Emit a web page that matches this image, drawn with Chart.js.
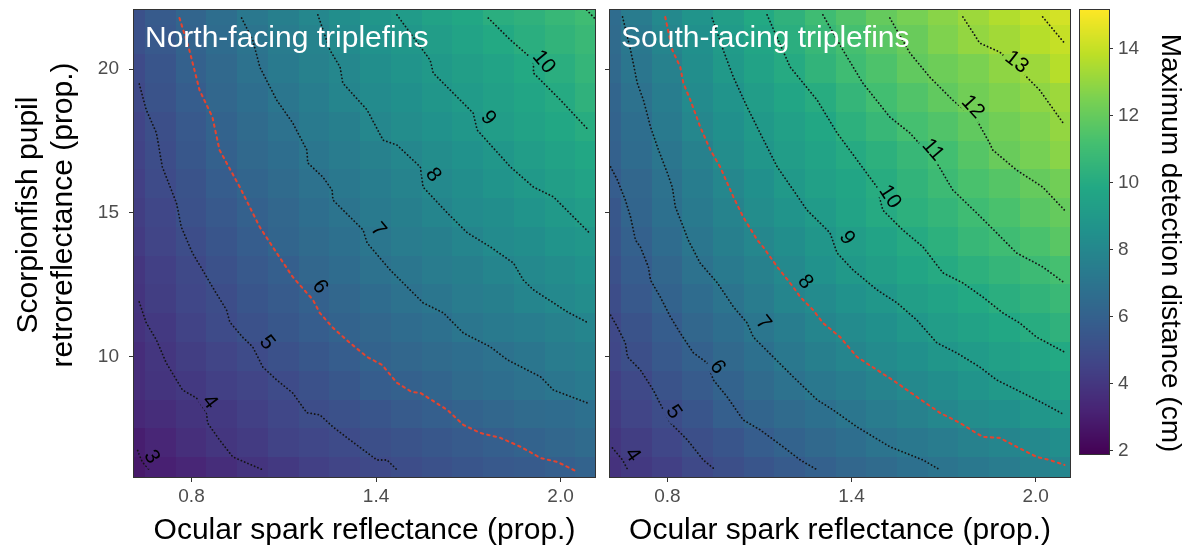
<!DOCTYPE html>
<html>
<head>
<meta charset="utf-8">
<script src="https://cdn.jsdelivr.net/npm/chart.js@4.4.1/dist/chart.umd.min.js"></script>
<style>
  html, body { margin: 0; padding: 0; background: #fff; }
  #wrap { position: relative; width: 1198px; height: 549px; overflow: hidden; }
  canvas { position: absolute; top: 0; }
</style>
</head>
<body>
<div id="wrap">
  <canvas id="north" width="600" height="549" style="left:0"></canvas>
  <canvas id="south" width="475" height="549" style="left:600px"></canvas>
  <canvas id="cbar" width="123" height="549" style="left:1075px"></canvas>
</div>
<script>
const FONT = '"Liberation Sans", Arial, Helvetica, sans-serif';

// axis ranges and ticks
const X_MIN = 0.613, X_MAX = 2.112;
const Y_MIN = 5.83, Y_MAX = 22.05;
const Z_MIN = 1.91, Z_MAX = 15.16;
const xTicks = [0.8, 1.4, 2.0];
const yTicks = [10, 15, 20];
const barTicks = [2, 4, 6, 8, 10, 12, 14];

// grid of the heat map (cell centres)
const xCenters = [0.6, 0.7, 0.8, 0.9, 1.0, 1.1, 1.2, 1.3, 1.4, 1.5, 1.6, 1.7, 1.8, 1.9, 2.0, 2.1];
const yCenters = [22, 21, 20, 19, 18, 17, 16, 15, 14, 13, 12, 11, 10, 9, 8, 7, 6];

// maximum detection distance (cm), rows from top (y=22) to bottom (y=6)
const northZ = [
  [5.2, 5.7, 6.2, 6.7, 7.2, 7.6, 8.0, 8.4, 8.8, 9.1, 9.5, 9.8, 10.2, 10.4, 10.7, 11.0],
  [5.2, 5.6, 6.1, 6.6, 7.0, 7.4, 7.8, 8.2, 8.6, 8.9, 9.2, 9.6, 9.9, 10.2, 10.5, 10.8],
  [4.9, 5.4, 6.0, 6.4, 6.9, 7.3, 7.7, 8.0, 8.4, 8.7, 9.0, 9.3, 9.6, 9.9, 10.2, 10.6],
  [4.8, 5.3, 5.8, 6.3, 6.7, 7.1, 7.5, 7.9, 8.2, 8.5, 8.8, 9.1, 9.4, 9.7, 10.0, 10.4],
  [4.6, 5.1, 5.6, 6.1, 6.5, 6.9, 7.3, 7.6, 8.0, 8.3, 8.6, 8.9, 9.2, 9.5, 9.8, 10.1],
  [4.5, 5.0, 5.5, 6.0, 6.4, 6.7, 7.1, 7.4, 7.7, 8.0, 8.3, 8.6, 8.9, 9.2, 9.5, 9.8],
  [4.4, 4.9, 5.3, 5.8, 6.2, 6.5, 6.9, 7.2, 7.5, 7.8, 8.1, 8.4, 8.7, 9.0, 9.3, 9.6],
  [4.3, 4.7, 5.2, 5.6, 6.0, 6.3, 6.7, 7.0, 7.3, 7.6, 7.9, 8.2, 8.4, 8.7, 9.0, 9.2],
  [4.2, 4.6, 5.0, 5.4, 5.8, 6.2, 6.5, 6.8, 7.1, 7.4, 7.6, 7.9, 8.2, 8.4, 8.7, 8.9],
  [4.0, 4.4, 4.8, 5.2, 5.6, 5.9, 6.3, 6.6, 6.9, 7.1, 7.4, 7.6, 7.9, 8.1, 8.3, 8.6],
  [3.9, 4.3, 4.7, 5.0, 5.4, 5.7, 6.0, 6.3, 6.6, 6.9, 7.1, 7.4, 7.6, 7.9, 8.1, 8.3],
  [3.8, 4.1, 4.5, 4.9, 5.2, 5.5, 5.8, 6.1, 6.3, 6.6, 6.8, 7.1, 7.3, 7.5, 7.7, 7.9],
  [3.6, 4.0, 4.3, 4.6, 4.9, 5.2, 5.5, 5.8, 6.1, 6.3, 6.5, 6.7, 6.9, 7.1, 7.4, 7.6],
  [3.6, 3.9, 4.1, 4.4, 4.6, 4.9, 5.2, 5.5, 5.8, 6.0, 6.2, 6.5, 6.7, 6.9, 7.1, 7.3],
  [3.4, 3.6, 3.9, 4.1, 4.4, 4.7, 5.0, 5.2, 5.4, 5.7, 5.9, 6.1, 6.3, 6.5, 6.6, 6.8],
  [3.0, 3.3, 3.7, 4.0, 4.2, 4.5, 4.7, 4.9, 5.1, 5.3, 5.5, 5.7, 5.9, 6.1, 6.3, 6.5],
  [2.8, 3.1, 3.3, 3.6, 3.9, 4.1, 4.4, 4.6, 4.8, 5.0, 5.2, 5.4, 5.6, 5.7, 5.9, 6.1]
];
const southZ = [
  [6.6, 7.4, 8.1, 8.7, 9.3, 9.9, 10.4, 11.0, 11.5, 12.0, 12.4, 12.8, 13.2, 13.6, 14.0, 14.3],
  [6.5, 7.2, 7.9, 8.5, 9.1, 9.7, 10.2, 10.7, 11.2, 11.7, 12.1, 12.6, 13.0, 13.3, 13.7, 14.0],
  [6.4, 7.1, 7.7, 8.4, 9.0, 9.5, 10.0, 10.5, 11.0, 11.4, 11.9, 12.2, 12.5, 12.9, 13.2, 13.7],
  [6.2, 6.9, 7.5, 8.2, 8.7, 9.2, 9.7, 10.1, 10.6, 11.1, 11.5, 11.9, 12.3, 12.6, 12.9, 13.2],
  [6.1, 6.7, 7.3, 8.0, 8.5, 9.0, 9.4, 9.8, 10.3, 10.7, 11.2, 11.5, 11.9, 12.3, 12.6, 13.0],
  [6.0, 6.6, 7.1, 7.7, 8.3, 8.8, 9.2, 9.6, 10.0, 10.3, 10.7, 11.1, 11.6, 12.1, 12.4, 12.8],
  [5.8, 6.3, 6.9, 7.5, 8.0, 8.5, 9.0, 9.4, 9.7, 10.1, 10.5, 10.9, 11.3, 11.6, 12.0, 12.3],
  [5.5, 6.2, 6.8, 7.3, 7.8, 8.3, 8.7, 9.1, 9.6, 10.0, 10.3, 10.6, 11.0, 11.3, 11.7, 12.0],
  [5.4, 6.0, 6.6, 7.1, 7.6, 8.0, 8.4, 8.8, 9.2, 9.6, 10.0, 10.3, 10.7, 11.0, 11.3, 11.7],
  [5.2, 5.8, 6.3, 6.9, 7.3, 7.7, 8.1, 8.6, 9.0, 9.3, 9.7, 10.0, 10.3, 10.6, 10.9, 11.2],
  [5.0, 5.6, 6.1, 6.6, 7.0, 7.4, 7.9, 8.2, 8.6, 8.9, 9.3, 9.6, 9.9, 10.2, 10.5, 10.8],
  [4.8, 5.3, 5.8, 6.3, 6.7, 7.1, 7.5, 7.9, 8.2, 8.5, 8.9, 9.2, 9.5, 9.8, 10.1, 10.4],
  [4.7, 5.1, 5.6, 6.0, 6.4, 6.8, 7.2, 7.6, 7.9, 8.2, 8.5, 8.8, 9.1, 9.4, 9.7, 9.9],
  [4.4, 4.8, 5.3, 5.7, 6.1, 6.5, 6.9, 7.2, 7.5, 7.8, 8.1, 8.4, 8.7, 9.0, 9.3, 9.5],
  [4.2, 4.6, 5.0, 5.4, 5.9, 6.2, 6.5, 6.8, 7.1, 7.4, 7.7, 8.0, 8.3, 8.5, 8.8, 9.0],
  [4.0, 4.3, 4.7, 5.1, 5.4, 5.8, 6.1, 6.4, 6.7, 7.0, 7.2, 7.4, 7.7, 7.9, 8.1, 8.4],
  [3.8, 4.1, 4.4, 4.8, 5.1, 5.4, 5.7, 6.0, 6.3, 6.5, 6.8, 7.0, 7.2, 7.4, 7.7, 7.9]
];

// contour lines, [x, y] points
const north3 = [[0.625, 6.75], [0.640, 6.35], [0.666, 6.04]];
const north4 = [[0.630, 11.91], [0.653, 11.18], [0.686, 10.59], [0.718, 9.79], [0.771, 8.85], [0.816, 8.58], [0.849, 8.06], [0.852, 7.71], [0.891, 7.12], [0.934, 6.53], [0.979, 6.32], [1.032, 6.08]];
const north5 = [[0.630, 19.48], [0.653, 18.58], [0.686, 17.78], [0.705, 16.60], [0.751, 15.35], [0.767, 14.51], [0.803, 13.61], [0.836, 13.02], [0.868, 12.43], [0.914, 11.63], [0.924, 11.22], [0.966, 10.69], [0.999, 10.35], [1.032, 9.65], [1.077, 9.20], [1.129, 8.75], [1.175, 8.06], [1.217, 7.99], [1.260, 7.57], [1.315, 7.12], [1.403, 6.42], [1.436, 6.42], [1.468, 6.08]];
const north6 = [[0.761, 21.77], [0.793, 20.66], [0.826, 19.27], [0.868, 18.33], [0.891, 17.19], [0.957, 15.90], [1.022, 14.51], [1.077, 13.61], [1.129, 12.78], [1.195, 11.98], [1.217, 11.53], [1.260, 11.01], [1.315, 10.49], [1.371, 10.00], [1.420, 9.72], [1.468, 9.10], [1.517, 8.78], [1.544, 8.75], [1.632, 8.16], [1.684, 7.64], [1.739, 7.36], [1.804, 7.19], [1.870, 6.88], [1.935, 6.49], [1.990, 6.35], [2.055, 6.01]];
const north7 = [[0.963, 21.77], [0.999, 21.01], [1.022, 20.07], [1.077, 18.92], [1.129, 18.13], [1.175, 17.19], [1.178, 16.74], [1.227, 16.25], [1.257, 15.80], [1.260, 15.45], [1.358, 14.41], [1.371, 13.96], [1.446, 13.02], [1.553, 11.88], [1.619, 11.53], [1.684, 10.83], [1.772, 10.35], [1.827, 9.90], [1.935, 9.31], [1.977, 8.85], [2.088, 8.40]];
const north8 = [[1.211, 21.88], [1.250, 20.66], [1.283, 20.07], [1.292, 19.51], [1.371, 18.58], [1.423, 17.53], [1.468, 17.36], [1.544, 16.60], [1.553, 15.90], [1.632, 15.00], [1.697, 14.31], [1.772, 13.82], [1.847, 13.26], [1.879, 12.67], [1.912, 12.33], [2.023, 11.56], [2.091, 11.18]];
const north9 = [[1.468, 21.88], [1.576, 20.31], [1.586, 19.86], [1.716, 18.47], [1.729, 17.88], [1.837, 16.60], [1.912, 15.90], [1.977, 15.56], [2.091, 14.34]];
const north10 = [[1.765, 21.77], [1.837, 21.01], [1.912, 20.31], [1.912, 19.86], [2.000, 18.92], [2.091, 17.88]];
const north11 = [[2.085, 22.05], [2.112, 21.75]];

const south4 = [[0.621, 6.84], [0.654, 6.42], [0.673, 6.04]];
const south5 = [[0.615, 11.45], [0.637, 11.04], [0.663, 10.49], [0.670, 10.00], [0.712, 9.55], [0.754, 8.85], [0.787, 8.16], [0.810, 7.71], [0.865, 7.12], [0.917, 6.42], [0.956, 6.08]];
const south6 = [[0.615, 16.60], [0.637, 16.15], [0.663, 15.45], [0.680, 14.86], [0.696, 14.06], [0.712, 13.82], [0.738, 13.13], [0.745, 12.67], [0.777, 12.08], [0.810, 11.39], [0.842, 10.83], [0.885, 10.14], [0.930, 9.79], [0.950, 9.20], [0.995, 8.61], [1.047, 7.81], [1.102, 7.47], [1.177, 6.88], [1.233, 6.42], [1.288, 6.08]];
const south7 = [[0.654, 21.81], [0.680, 20.66], [0.702, 19.51], [0.722, 18.92], [0.745, 17.99], [0.771, 17.19], [0.800, 16.39], [0.816, 15.90], [0.826, 15.21], [0.852, 14.51], [0.868, 14.06], [0.907, 13.26], [0.963, 12.57], [1.015, 11.74], [1.060, 11.18], [1.080, 10.69], [1.145, 10.00], [1.210, 9.31], [1.288, 8.51], [1.340, 8.16], [1.418, 7.57], [1.525, 6.88], [1.633, 6.42], [1.688, 6.08]];
const south8 = [[0.793, 21.81], [0.816, 20.66], [0.842, 20.07], [0.852, 19.51], [0.875, 18.92], [0.907, 17.99], [0.940, 17.19], [0.972, 16.60], [1.015, 15.56], [1.047, 14.86], [1.093, 14.06], [1.112, 13.82], [1.158, 13.13], [1.210, 12.43], [1.233, 12.08], [1.275, 11.63], [1.307, 11.18], [1.363, 10.69], [1.418, 10.00], [1.483, 9.55], [1.548, 9.10], [1.613, 8.61], [1.688, 8.06], [1.753, 7.71], [1.828, 7.22], [1.883, 7.19], [1.938, 6.88], [2.003, 6.53], [2.046, 6.42], [2.094, 6.25]];
const south9 = [[0.946, 21.77], [0.982, 20.66], [1.015, 19.72], [1.060, 18.68], [1.102, 17.78], [1.158, 16.60], [1.210, 15.80], [1.255, 15.10], [1.298, 14.65], [1.330, 14.31], [1.353, 13.61], [1.405, 13.02], [1.483, 12.33], [1.548, 11.88], [1.613, 11.28], [1.678, 10.49], [1.743, 10.14], [1.818, 9.65], [1.873, 9.20], [1.958, 8.75], [2.023, 8.40], [2.094, 7.99]];
const south10 = [[1.125, 21.88], [1.200, 20.07], [1.288, 18.92], [1.353, 17.78], [1.418, 16.84], [1.483, 15.90], [1.502, 15.10], [1.567, 14.41], [1.633, 13.82], [1.698, 12.92], [1.763, 12.57], [1.828, 12.08], [1.893, 11.53], [1.948, 11.18], [2.003, 10.69], [2.094, 10.17]];
const south11 = [[1.307, 21.88], [1.372, 20.66], [1.437, 19.51], [1.525, 18.33], [1.590, 17.78], [1.678, 16.74], [1.730, 15.80], [1.808, 15.00], [1.873, 14.31], [1.938, 13.61], [2.023, 13.13], [2.094, 12.57]];
const south12 = [[1.525, 21.77], [1.590, 20.56], [1.655, 19.72], [1.730, 18.92], [1.808, 18.23], [1.850, 17.43], [1.860, 17.19], [1.938, 16.49], [2.023, 15.90], [2.094, 15.10]];
const south13 = [[1.763, 21.81], [1.818, 20.90], [1.883, 20.59], [1.958, 19.86], [2.013, 19.27], [2.094, 18.06]];
const south14 = [[2.023, 21.81], [2.094, 20.90]];

// contour labels: [level, x, y]
const northLabels = [[3, 0.670, 6.53], [4, 0.859, 8.44], [5, 1.045, 10.49], [6, 1.217, 12.43], [7, 1.407, 14.41], [8, 1.586, 16.32], [9, 1.765, 18.30], [10, 1.945, 20.24]];
const southLabels = [[4, 0.686, 6.60], [5, 0.820, 8.09], [6, 0.963, 9.65], [7, 1.112, 11.18], [8, 1.249, 12.60], [9, 1.385, 14.13], [10, 1.525, 15.56], [11, 1.665, 17.19], [12, 1.795, 18.68], [13, 1.938, 20.24]];

const northLines = [[3, north3], [4, north4], [5, north5], [6, north6], [7, north7], [8, north8], [9, north9], [10, north10], [11, north11]];
const southLines = [[4, south4], [5, south5], [6, south6], [7, south7], [8, south8], [9, south9], [10, south10], [11, south11], [12, south12], [13, south13], [14, south14]];

const VIRIDIS = [[68,1,84],[72,36,117],[65,68,135],[53,95,141],[42,120,142],[33,145,140],[34,168,132],[68,191,112],[122,209,81],[189,223,38],[253,231,37]];

function viridis(v) {
  let t = (v - Z_MIN) / (Z_MAX - Z_MIN);
  t = Math.min(1, Math.max(0, t)) * (VIRIDIS.length - 1);
  const i = Math.min(Math.floor(t), VIRIDIS.length - 2), f = t - i;
  const a = VIRIDIS[i], b = VIRIDIS[i + 1];
  return 'rgb(' + a.map((c, k) => Math.round(c + (b[k] - c) * f)).join(',') + ')';
}

// put each label where it was read, turned along the nearest stretch of its contour
function placeLabels(chart, lines, labels) {
  const {ctx, scales: {x, y}} = chart;
  ctx.save();
  ctx.font = '21px ' + FONT;
  const out = labels.map(([level, lx, ly]) => {
    const pts = lines.find(l => l[0] === level)[1].map(([a, b]) => [x.getPixelForValue(a), y.getPixelForValue(b)]);
    const tx = x.getPixelForValue(lx), ty = y.getPixelForValue(ly);
    let best = null;
    for (let i = 0; i < pts.length - 1; i++) {
      const [x0, y0] = pts[i], [x1, y1] = pts[i + 1];
      const dx = x1 - x0, dy = y1 - y0;
      let t = ((tx - x0) * dx + (ty - y0) * dy) / (dx * dx + dy * dy || 1);
      t = Math.max(0, Math.min(1, t));
      const d = Math.hypot(tx - x0 - t * dx, ty - y0 - t * dy);
      if (!best || d < best.d) best = {d, i};
    }
    const a = pts[Math.max(0, best.i - 1)], b = pts[Math.min(pts.length - 1, best.i + 2)];
    let ang = Math.atan2(b[1] - a[1], b[0] - a[0]);
    if (ang > Math.PI / 2) ang -= Math.PI;
    if (ang < -Math.PI / 2) ang += Math.PI;
    const text = String(level);
    return {text, x: tx, y: ty, ang, w: ctx.measureText(text).width + 6, h: 18};
  });
  ctx.restore();
  return out;
}

function makePanel(id, p) {
  let boxes = [];
  const panelPlugin = {
    id: 'panel',
    beforeDatasetsDraw(chart) {
      const {ctx, chartArea: a, scales: {x, y}} = chart;
      const hx = (xCenters[1] - xCenters[0]) / 2, hy = Math.abs(yCenters[0] - yCenters[1]) / 2;
      ctx.save();
      ctx.beginPath();
      ctx.rect(a.left, a.top, a.width, a.height);
      ctx.clip();
      p.z.forEach((row, r) => row.forEach((v, c) => {
        const x0 = Math.floor(x.getPixelForValue(xCenters[c] - hx));
        const x1 = Math.ceil(x.getPixelForValue(xCenters[c] + hx));
        const y0 = Math.floor(y.getPixelForValue(yCenters[r] + hy));
        const y1 = Math.ceil(y.getPixelForValue(yCenters[r] - hy));
        ctx.fillStyle = viridis(v);
        ctx.fillRect(x0, y0, x1 - x0, y1 - y0);
      }));
      ctx.restore();

      // keep contour lines out from under their labels
      boxes = placeLabels(chart, p.lines, p.labels);
      ctx.save();
      ctx.beginPath();
      ctx.rect(a.left, a.top, a.width, a.height);
      boxes.forEach(b => {
        const c = Math.cos(b.ang), s = Math.sin(b.ang);
        [[-1, -1], [1, -1], [1, 1], [-1, 1]].forEach(([u, w], k) => {
          const px = b.x + u * b.w / 2 * c - w * b.h / 2 * s;
          const py = b.y + u * b.w / 2 * s + w * b.h / 2 * c;
          if (k) ctx.lineTo(px, py); else ctx.moveTo(px, py);
        });
        ctx.closePath();
      });
      ctx.clip('evenodd');
    },
    afterDatasetsDraw(chart) {
      const {ctx, chartArea: a} = chart;
      ctx.restore();
      ctx.save();
      ctx.font = '21px ' + FONT;
      ctx.fillStyle = '#000';
      ctx.textAlign = 'center';
      ctx.textBaseline = 'middle';
      boxes.forEach(b => {
        ctx.save();
        ctx.translate(b.x, b.y);
        ctx.rotate(b.ang);
        ctx.fillText(b.text, 0, 0);
        ctx.restore();
      });
      ctx.font = '30px ' + FONT;
      ctx.fillStyle = '#fff';
      ctx.textAlign = 'left';
      ctx.textBaseline = 'alphabetic';
      ctx.fillText(p.title, a.left + 11, a.top + 37);
      ctx.strokeStyle = '#333';
      ctx.lineWidth = 1;
      ctx.strokeRect(a.left - 0.5, a.top - 0.5, a.width + 1, a.height + 1);
      if (p.yTitle) {
        ctx.fillStyle = '#000';
        ctx.textAlign = 'center';
        p.yTitle.forEach((line, i) => {
          ctx.save();
          ctx.translate(37 + i * 35, 215);
          ctx.rotate(-Math.PI / 2);
          ctx.fillText(line, 0, 0);
          ctx.restore();
        });
      }
      ctx.restore();
    }
  };

  return new Chart(document.getElementById(id), {
    type: 'scatter',
    data: {
      datasets: p.lines.map(([level, pts]) => {
        const hot = level === p.highlight;
        return {
          data: pts.map(([x, y]) => ({x, y})),
          showLine: true,
          borderColor: hot ? '#e2442f' : '#141414',
          borderWidth: hot ? 2.1 : 1.8,
          borderDash: hot ? [2.4, 4.2] : [0.1, 3.5],
          borderCapStyle: 'round',
          pointRadius: 0,
          tension: 0
        };
      })
    },
    options: {
      responsive: false,
      animation: false,
      devicePixelRatio: 1,
      events: [],
      layout: { padding: { top: 10, right: 5, left: 0, bottom: 0 } },
      plugins: { legend: { display: false }, tooltip: { enabled: false } },
      scales: {
        x: {
          min: X_MIN, max: X_MAX,
          afterBuildTicks: s => { s.ticks = xTicks.map(v => ({value: v})); },
          afterFit: s => { s.height = 72; s.paddingLeft = 0; s.paddingRight = 0; },
          grid: { drawOnChartArea: false, tickLength: 5, tickColor: '#333', tickWidth: 1 },
          border: { display: false },
          ticks: { font: { family: FONT, size: 19 }, color: '#4d4d4d', padding: 3, maxRotation: 0, autoSkip: false,
                   callback: v => v.toFixed(1) },
          title: { display: true, text: 'Ocular spark reflectance (prop.)', font: { family: FONT, size: 30 },
                   color: '#000', padding: { top: 0, bottom: 0 } }
        },
        y: {
          min: Y_MIN, max: Y_MAX,
          afterBuildTicks: s => { s.ticks = yTicks.map(v => ({value: v})); },
          afterFit: s => { s.width = p.yWidth; s.paddingTop = 0; s.paddingBottom = 0; },
          grid: { drawOnChartArea: false, tickLength: 5, tickColor: '#333', tickWidth: 1 },
          border: { display: false },
          ticks: { display: p.yLabels, font: { family: FONT, size: 19 }, color: '#4d4d4d', padding: 10, autoSkip: false }
        }
      }
    },
    plugins: [panelPlugin]
  });
}

makePanel('north', {
  z: northZ, lines: northLines, labels: northLabels, highlight: 6,
  title: 'North-facing triplefins', yTitle: ['Scorpionfish pupil', 'retroreflectance (prop.)'],
  yWidth: 134, yLabels: true
});
makePanel('south', {
  z: southZ, lines: southLines, labels: southLabels, highlight: 8,
  title: 'South-facing triplefins', yWidth: 10, yLabels: false
});

// colour bar
const barTitle = 'Maximum detection distance (cm)';
const barPlugin = {
  id: 'bar',
  beforeDatasetsDraw(chart) {
    const {ctx, chartArea: a, scales: {y}} = chart;
    for (let py = Math.floor(a.top); py < Math.ceil(a.bottom); py++) {
      ctx.fillStyle = viridis(y.getValueForPixel(py + 0.5));
      ctx.fillRect(a.left, py, a.width, 1);
    }
    ctx.strokeStyle = '#333';
    ctx.lineWidth = 1;
    ctx.strokeRect(a.left - 0.5, a.top - 0.5, a.width + 1, a.height + 1);
    ctx.save();
    ctx.font = '28px ' + FONT;
    ctx.fillStyle = '#000';
    ctx.textAlign = 'center';
    ctx.textBaseline = 'middle';
    ctx.translate(95, 243);
    ctx.rotate(Math.PI / 2);
    ctx.fillText(barTitle, 0, 0);
    ctx.restore();
  }
};

new Chart(document.getElementById('cbar'), {
  type: 'scatter',
  data: { datasets: [] },
  options: {
    responsive: false,
    animation: false,
    devicePixelRatio: 1,
    events: [],
    layout: { padding: { top: 10, bottom: 95, left: 5, right: 0 } },
    plugins: { legend: { display: false }, tooltip: { enabled: false } },
    scales: {
      x: { display: false, min: 0, max: 1 },
      y: {
        position: 'right',
        min: Z_MIN, max: Z_MAX,
        afterBuildTicks: s => { s.ticks = barTicks.map(v => ({value: v})); },
        afterFit: s => { s.width = 89; s.paddingTop = 0; s.paddingBottom = 0; },
        grid: { drawOnChartArea: false, tickLength: 4, tickColor: '#333', tickWidth: 1 },
        border: { display: false },
        ticks: { font: { family: FONT, size: 19 }, color: '#4d4d4d', padding: 5, autoSkip: false }
      }
    }
  },
  plugins: [barPlugin]
});
</script>
</body>
</html>
